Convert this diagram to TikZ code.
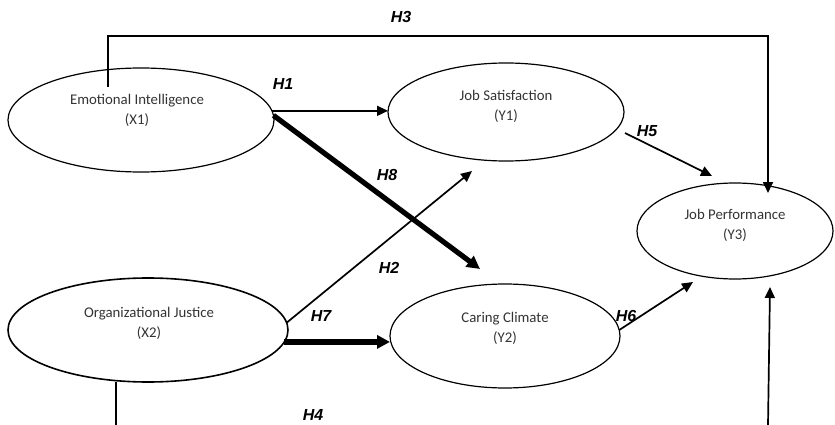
\documentclass[tikz,border=0pt]{standalone}
\usepackage{fontspec}
\setmainfont{Carlito}
\newfontfamily\hfont{Liberation Sans}
\usetikzlibrary{shapes.geometric,arrows.meta}
\definecolor{txtgray}{HTML}{333333}
\tikzset{
  latent/.style={draw=black,ellipse,line width=1.2pt,inner sep=0pt,outer sep=0pt},
  ltext/.style={align=center,text=txtgray,font=\fontsize{14.8}{20}\selectfont,inner sep=0pt},
  hlab/.style={font=\hfont\bfseries\itshape\fontsize{16}{18}\selectfont,inner sep=0pt},
  conn/.style={line width=1.7pt,-{Triangle[length=11pt,width=10pt]}},
  thick conn/.style={line width=5.2pt,-{Triangle[length=13pt,width=13pt]}},
  plain/.style={line width=1.7pt}
}
\begin{document}
\begin{tikzpicture}[x=1pt,y=-1pt]
\useasboundingbox (0,0) rectangle (835,425);
% latent variables
\node[latent,minimum width=266pt,minimum height=104pt] (x1) at (141,120) {};
\node[latent,minimum width=236pt,minimum height=98pt] (y1) at (506,112) {};
\node[latent,minimum width=196pt,minimum height=96pt] (y3) at (735,231) {};
\node[latent,line width=1.6pt,minimum width=280pt,minimum height=104pt] (x2) at (148,330) {};
\node[latent,minimum width=230pt,minimum height=104pt] (y2) at (505,336) {};
% texts
\node[ltext] (x1t) at (137,110) {Emotional Intelligence\\(X1)};
\node[ltext] (y1t) at (506,106.5) {Job Satisfaction\\(Y1)};
\node[ltext] (y3t) at (735,225) {Job Performance\\(Y3)};
\node[ltext] (x2t) at (149,323) {Organizational Justice\\(X2)};
\node[ltext] (y2t) at (505,328) {Caring Climate\\(Y2)};
% coordinates
\coordinate (h3s) at (108,87);
\coordinate (h3a) at (108,36);
\coordinate (h3b) at (768,36);
\coordinate (h3e) at (768,193);
\coordinate (h8e) at (480,269);
\coordinate (h2e) at (472,171);
\coordinate (h5s) at (625,133);
\coordinate (h5e) at (712,176);
\coordinate (h6e) at (693,282);
\coordinate (h4s) at (116,425);
\coordinate (h4b) at (768,425);
\coordinate (h4e) at (770,287);
% connectors
\draw[conn] (x1.4) -- (x1.4 -| y1.west);
\draw[thick conn] (x1.2) -- (h8e);
\draw[conn] (x2.3) -- (h2e);
\draw[thick conn] (x2.-5) -- (x2.-5 -| y2.west);
\draw[conn] (h3s) -- (h3a) -- (h3b) -- (h3e);
\draw[conn] (h5s) -- (h5e);
\draw[conn] (y2.3) -- (h6e);
\draw[plain] (x2.south -| h4s) -- (h4s);
\draw[conn] (h4b) -- (h4e);
% labels
\node[hlab] (lh1) at (283,84) {H1};
\node[hlab] (lh2) at (389,268) {H2};
\node[hlab] (lh3) at (401,17) {H3};
\node[hlab] (lh4) at (313,415) {H4};
\node[hlab] (lh5) at (647,131) {H5};
\node[hlab] (lh6) at (626,316) {H6};
\node[hlab] (lh7) at (321,316) {H7};
\node[hlab] (lh8) at (387,175) {H8};
\end{tikzpicture}
\end{document}
